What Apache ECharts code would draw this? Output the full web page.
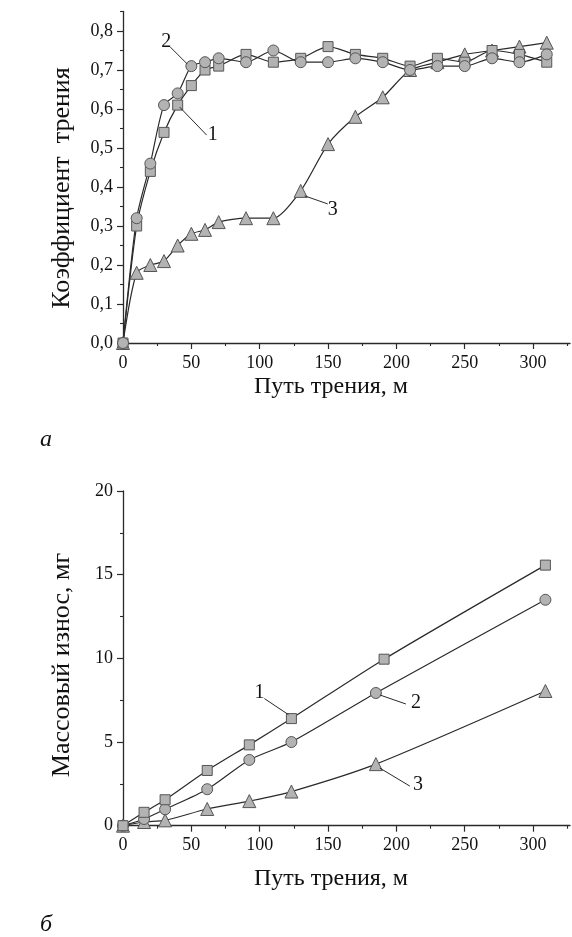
<!DOCTYPE html>
<html>
<head>
<meta charset="utf-8">
<script src="https://cdn.jsdelivr.net/npm/echarts@6/dist/echarts.min.js"></script>
<style>
  html, body { margin: 0; padding: 0; background: #fff; }
  #chart { width: 572px; height: 937px; }
</style>
</head>
<body>
<div id="chart"></div>
<script>
// (a) friction coefficient vs sliding distance
const distA = [0, 10, 20, 30, 40, 50, 60, 70, 90, 110, 130, 150, 170, 190, 210, 230, 250, 270, 290, 310];
const frictionSq = [0, 0.30, 0.44, 0.54, 0.61, 0.66, 0.70, 0.71, 0.74, 0.72, 0.73, 0.76, 0.74, 0.73, 0.71, 0.73, 0.72, 0.75, 0.74, 0.72];
const frictionCi = [0, 0.32, 0.46, 0.61, 0.64, 0.71, 0.72, 0.73, 0.72, 0.75, 0.72, 0.72, 0.73, 0.72, 0.70, 0.71, 0.71, 0.73, 0.72, 0.74];
const frictionTr = [0, 0.18, 0.20, 0.21, 0.25, 0.28, 0.29, 0.31, 0.32, 0.32, 0.39, 0.51, 0.58, 0.63, 0.70, 0.72, 0.74, 0.75, 0.76, 0.77];

// (б) mass wear vs sliding distance
const distBSq = [0, 15.4, 30.8, 61.6, 92.4, 123.2, 191, 309];
const distBCi = [0, 15.4, 30.8, 61.6, 92.4, 123.2, 185, 309];
const distBTr = [0, 15.4, 30.8, 61.6, 92.4, 123.2, 185, 309];
const wearSq = [0, 0.8, 1.55, 3.3, 4.83, 6.4, 9.95, 15.57];
const wearCi = [0, 0.4, 0.98, 2.18, 3.93, 5.0, 7.93, 13.5];
const wearTr = [0, 0.22, 0.32, 1.0, 1.47, 2.04, 3.68, 8.05];

// tick values
const xMajor = [0, 50, 100, 150, 200, 250, 300];
const xMinor = [25, 75, 125, 175, 225, 275, 325];
const yMajorA = [0, 0.1, 0.2, 0.3, 0.4, 0.5, 0.6, 0.7, 0.8];
const yMinorA = [0.05, 0.15, 0.25, 0.35, 0.45, 0.55, 0.65, 0.75, 0.85];
const yMajorB = [0, 5, 10, 15, 20];
const yMinorB = [2.5, 7.5, 12.5, 17.5];

// axis titles
const xTitle = 'Путь трения, м';
const yTitleA = 'Коэффициент  трения';
const yTitleB = 'Массовый износ, мг';

// curve numbers, anchored on a data point; offsets in pixels
const notesA = [
  { x: 50, y: 0.71, text: '2', from: [-4, -2], to: [-21, -19], pos: [-25, -24] },
  { x: 40, y: 0.61, text: '1', from: [2, 2], to: [29, 30], pos: [35, 30] },
  { x: 130, y: 0.39, text: '3', from: [4, 5], to: [27, 13], pos: [32, 19] }
];
const notesB = [
  { x: 123.2, y: 6.4, text: '1', from: [-3, -4], to: [-27, -20], pos: [-32, -26] },
  { x: 185, y: 7.93, text: '2', from: [4, 2], to: [30, 11], pos: [40, 10] },
  { x: 185, y: 3.68, text: '3', from: [4, 4], to: [34, 22], pos: [42, 21] }
];

const FONT = '"Liberation Serif", "Times New Roman", serif';
const INK = '#2a2a2a';
const MARK_FILL = '#b3b3b3';
const MARK_EDGE = '#555555';

const zip = (xs, ys) => xs.map((x, i) => [x, ys[i]]);

function mainX(grid) {
  return {
    type: 'value', gridIndex: grid, min: 0, max: 327, position: 'bottom',
    axisLine: { show: true, onZero: false, lineStyle: { color: INK, width: 1.3 } },
    axisTick: { show: true, inside: false, length: 6, customValues: xMajor, lineStyle: { color: INK, width: 1.2 } },
    axisLabel: { show: true, customValues: xMajor, margin: 11, color: '#111', fontFamily: FONT, fontSize: 18 },
    splitLine: { show: false }
  };
}
function minorX(grid) {
  return {
    type: 'value', gridIndex: grid, min: 0, max: 327, position: 'bottom',
    axisLine: { show: false },
    axisTick: { show: true, length: 3, customValues: xMinor, lineStyle: { color: INK, width: 1.1 } },
    axisLabel: { show: false }, splitLine: { show: false }
  };
}
function mainY(grid, max, major, fmt) {
  return {
    type: 'value', gridIndex: grid, min: 0, max: max, position: 'left',
    axisLine: { show: true, onZero: false, lineStyle: { color: INK, width: 1.3 } },
    axisTick: { show: true, length: 6, customValues: major, lineStyle: { color: INK, width: 1.2 } },
    axisLabel: { show: true, customValues: major, margin: 10, color: '#111', fontFamily: FONT, fontSize: 18, formatter: fmt },
    splitLine: { show: false }
  };
}
function minorY(grid, max, minor) {
  return {
    type: 'value', gridIndex: grid, min: 0, max: max, position: 'left',
    axisLine: { show: false },
    axisTick: { show: true, length: 3, customValues: minor, lineStyle: { color: INK, width: 1.1 } },
    axisLabel: { show: false }, splitLine: { show: false }
  };
}

function curve(grid, data, symbol, size) {
  return {
    type: 'line', xAxisIndex: grid * 2, yAxisIndex: grid * 2, data: data,
    smooth: 0.25, symbol: symbol, symbolSize: size, showSymbol: true,
    lineStyle: { color: INK, width: 1.2 },
    itemStyle: { color: MARK_FILL, borderColor: MARK_EDGE, borderWidth: 1 },
    emphasis: { disabled: true }, animation: false
  };
}

const commaFmt = v => (Math.round(v * 10) / 10).toFixed(1).replace('.', ',');

const chart = echarts.init(document.getElementById('chart'), null, { renderer: 'canvas' });

chart.setOption({
  backgroundColor: '#fff',
  animation: false,
  grid: [
    { left: 123, top: 11.5, width: 447, height: 331.5 },
    { left: 123, top: 491, width: 447, height: 334.7 }
  ],
  xAxis: [mainX(0), minorX(0), mainX(1), minorX(1)],
  yAxis: [
    mainY(0, 0.85, yMajorA, commaFmt), minorY(0, 0.85, yMinorA),
    mainY(1, 20, yMajorB, v => String(v)), minorY(1, 20, yMinorB)
  ],
  series: [
    curve(0, zip(distA, frictionTr), 'triangle', 13),
    curve(0, zip(distA, frictionSq), 'rect', 10),
    curve(0, zip(distA, frictionCi), 'circle', 11),
    curve(1, zip(distBTr, wearTr), 'triangle', 13),
    curve(1, zip(distBCi, wearCi), 'circle', 11),
    curve(1, zip(distBSq, wearSq), 'rect', 10)
  ]
});

// curve numbers with leader lines
function noteGraphics(gridIndex, notes) {
  const out = [];
  notes.forEach(n => {
    const p = chart.convertToPixel({ gridIndex: gridIndex }, [n.x, n.y]);
    out.push({
      type: 'line', z: 50,
      shape: { x1: p[0] + n.from[0], y1: p[1] + n.from[1], x2: p[0] + n.to[0], y2: p[1] + n.to[1] },
      style: { stroke: INK, lineWidth: 1 }
    });
    out.push({
      type: 'text', z: 50, x: p[0] + n.pos[0], y: p[1] + n.pos[1],
      style: { text: n.text, fill: '#111', font: '20px ' + FONT, align: 'center', verticalAlign: 'middle' }
    });
  });
  return out;
}

function title(text, x, y, size, rotated) {
  return {
    type: 'text', z: 50, x: x, y: y, rotation: rotated ? Math.PI / 2 : 0,
    style: { text: text, fill: '#111', font: size + 'px ' + FONT, align: 'center', verticalAlign: 'middle' }
  };
}

const labels = [
  title(xTitle, 331, 387, 24, false),
  title(yTitleA, 62, 188, 26, true),
  title(xTitle, 331, 879, 24, false),
  title(yTitleB, 62, 665, 26, true),
  { type: 'text', left: 40, top: 428, style: { text: 'а', fill: '#111', font: 'italic 24px ' + FONT } },
  { type: 'text', left: 40, top: 913, style: { text: 'б', fill: '#111', font: 'italic 24px ' + FONT } }
];

chart.setOption({ graphic: noteGraphics(0, notesA).concat(noteGraphics(1, notesB)).concat(labels) });
</script>
</body>
</html>
